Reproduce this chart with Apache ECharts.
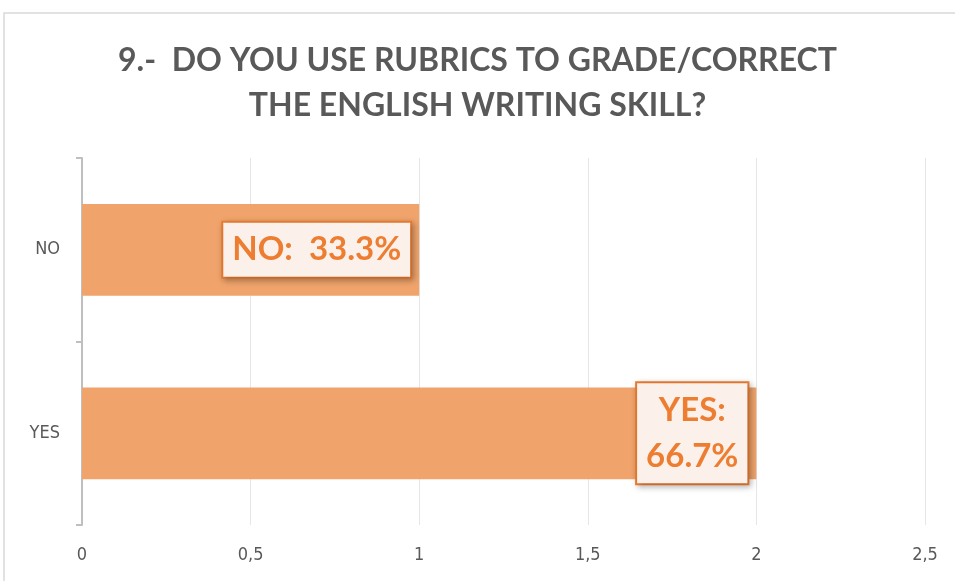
<!DOCTYPE html>
<html>
<head>
<meta charset="utf-8">
<script src="https://cdn.jsdelivr.net/npm/echarts@6/dist/echarts.min.js"></script>
<style>
  html, body { margin: 0; padding: 0; background: #fff; }
  #chart { width: 955px; height: 581px; }
</style>
</head>
<body>
<div id="chart"></div>
<script>
const categories = ['NO', 'YES'];
const values = [1, 2];
const xTicks = [0, 0.5, 1, 1.5, 2, 2.5];
const title = '9.-  DO YOU USE RUBRICS TO GRADE/CORRECT\nTHE ENGLISH WRITING SKILL?';

const total = values.reduce(function (a, b) { return a + b; }, 0);

function createChart(elId) {
    const chartDom = document.getElementById(elId);
    const myChart = echarts.init(chartDom);

    const option = {
        animation: false,
        textStyle: { fontFamily: 'Lato' },
        graphic: [
            {
                type: 'rect',
                shape: { x: 4, y: 13, width: 1000, height: 1000 },
                style: { fill: 'none', stroke: '#d9d9d9', lineWidth: 1.5 },
                silent: true
            }
        ],
        title: {
            text: title,
            left: 'center',
            top: 33,
            textStyle: {
                fontFamily: 'Lato',
                fontWeight: 'bold',
                fontSize: 32,
                lineHeight: 45,
                color: '#595959'
            }
        },
        grid: {
            left: 82,
            right: 30,
            top: 158,
            bottom: 56
        },
        xAxis: {
            type: 'value',
            min: xTicks[0],
            max: xTicks[xTicks.length - 1],
            interval: 0.5,
            axisLine: { show: false },
            axisTick: { show: false },
            splitLine: { lineStyle: { color: '#e6e6e6' } },
            axisLabel: {
                color: '#595959',
                fontSize: 18,
                margin: 21,
                fontFamily: 'DejaVu Sans Condensed',
                formatter: function (v) { return String(v).replace('.', ','); }
            }
        },
        yAxis: {
            type: 'category',
            data: categories,
            inverse: true,
            axisLine: { show: true, lineStyle: { color: '#bfbfbf', width: 2 } },
            axisTick: { show: true, length: 6, lineStyle: { color: '#bfbfbf', width: 2 } },
            axisLabel: {
                color: '#595959',
                fontSize: 18,
                margin: 22,
                fontFamily: 'DejaVu Sans Condensed'
            }
        },
        series: [
            {
                type: 'bar',
                data: values,
                barCategoryGap: '50%',
                itemStyle: { color: '#f0a46c' },
                label: {
                    show: true,
                    position: 'insideRight',
                    offset: [-4, 0],
                    formatter: function (p) {
                        const pct = (p.value / total * 100).toFixed(1) + '%';
                        return p.dataIndex === 0
                            ? '{t|' + p.name + ':  ' + pct + '}'
                            : '{t|' + p.name + ':}\n{t|' + pct + '}';
                    },
                    backgroundColor: '#fcf1ea',
                    borderColor: '#ed7d31',
                    borderWidth: 2,
                    padding: [4, 9, 4, 9],
                    shadowBlur: 6,
                    shadowColor: 'rgba(0,0,0,0.25)',
                    shadowOffsetX: 2,
                    shadowOffsetY: 2,
                    rich: {
                        t: {
                            align: 'center',
                            color: '#ed7d31',
                            fontFamily: 'Lato',
                            fontWeight: 'bold',
                            fontSize: 33,
                            lineHeight: 46
                        }
                    }
                }
            }
        ]
    };
    myChart.setOption(option);
}

createChart('chart');
</script>
</body>
</html>
